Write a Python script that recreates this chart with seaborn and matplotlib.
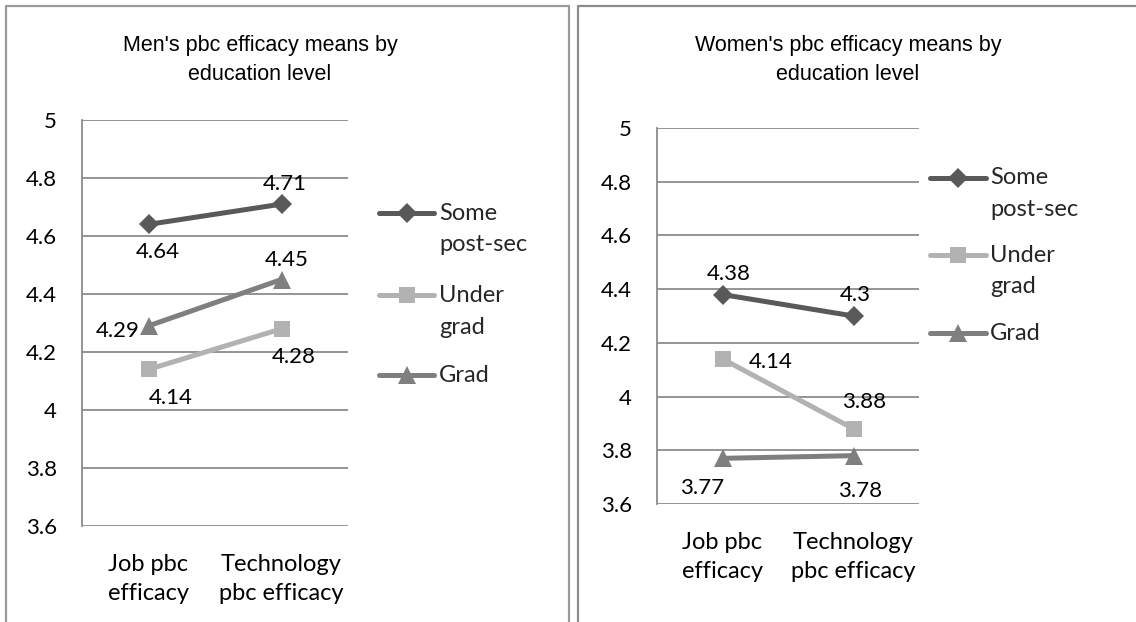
import matplotlib
matplotlib.use("Agg")
import matplotlib.pyplot as plt
from matplotlib.lines import Line2D
import pandas as pd
import seaborn as sns

# ---- data -------------------------------------------------------------
measures = ["Job pbc\nefficacy", "Technology\npbc efficacy"]
levels = ["Some post-sec", "Under grad", "Grad"]
legend_labels = ["Some\npost-sec", "Under\ngrad", "Grad"]

men_some = [4.64, 4.71]
men_under = [4.14, 4.28]
men_grad = [4.29, 4.45]

women_some = [4.38, 4.30]
women_under = [4.14, 3.88]
women_grad = [3.77, 3.78]

y_ticks = [3.6, 3.8, 4.0, 4.2, 4.4, 4.6, 4.8, 5.0]

men_title = ["Men's pbc efficacy means by", "education level"]
women_title = ["Women's pbc efficacy means by", "education level"]

# ---- styling ----------------------------------------------------------
W, H = 1136, 622
colors = {"Some post-sec": "#595959", "Under grad": "#b2b2b2", "Grad": "#7f7f7f"}
markers = {"Some post-sec": "D", "Under grad": "s", "Grad": "^"}
msizes = {"Some post-sec": 10, "Under grad": 11, "Grad": 12.5}
grid_c = "#8c8c8c"
body_font = "Lato"
title_font = "Liberation Sans"
num_size = 16
text_size = 17

sns.set_theme(style="white")
plt.rcParams["font.family"] = [body_font, "DejaVu Sans"]


def fx(x):
    return x / W


def fy(y):
    return 1 - y / H


def make_frame(values):
    rows = []
    for lvl, vals in zip(levels, values):
        for m, v in zip(measures, vals):
            rows.append({"measure": m, "level": lvl, "value": v})
    return pd.DataFrame(rows)


def draw_panel(fig, box, values, label_offsets):
    x0, y0, x1, y1 = box
    ax = fig.add_axes([fx(x0), fy(y1), fx(x1 - x0), (y1 - y0) / H])
    df = make_frame(values)
    sns.lineplot(data=df, x="measure", y="value", hue="level", style="level",
                 palette=colors, markers=markers, dashes=False, sort=False,
                 linewidth=3.6, legend=False, ax=ax)
    for line, lvl in zip(ax.get_lines(), levels):
        line.set_markersize(msizes[lvl])
        line.set_markeredgewidth(0)
        line.set_markerfacecolor(colors[lvl])
    ax.set_xlim(-0.5, 1.5)
    ax.set_ylim(3.6, 5.0)
    ax.set_yticks(y_ticks)
    ax.set_yticklabels([f"{t:g}" for t in y_ticks])
    ax.set_xlabel("")
    ax.set_ylabel("")
    ax.yaxis.grid(True, color=grid_c, linewidth=1.3)
    ax.xaxis.grid(False)
    ax.set_axisbelow(True)
    for s in ["top", "right", "bottom"]:
        ax.spines[s].set_visible(False)
    ax.spines["left"].set_color(grid_c)
    ax.spines["left"].set_linewidth(1.3)
    ax.tick_params(axis="both", length=0, colors="black")
    ax.tick_params(axis="y", pad=18, labelsize=num_size)
    ax.tick_params(axis="x", pad=20, labelsize=text_size)
    for lab in ax.get_xticklabels():
        lab.set_linespacing(1.5)
    # value labels
    for lvl, vals, offs in zip(levels, values, label_offsets):
        for i, (v, off) in enumerate(zip(vals, offs)):
            ax.annotate(f"{v:g}", xy=(i, v), xytext=off,
                        textcoords="offset pixels", ha="center", va="center",
                        fontsize=num_size, color="black")
    return ax


def draw_legend(fig, x_line, x_text, rows):
    for lvl, lab, y in zip(levels, legend_labels, rows):
        xs = [fx(x_line[0]), fx((x_line[0] + x_line[1]) / 2), fx(x_line[1])]
        ln = Line2D(xs, [fy(y)] * 3, transform=fig.transFigure,
                    color=colors[lvl], linewidth=3.6, marker=markers[lvl],
                    markersize=msizes[lvl], markeredgewidth=0, markevery=[1])
        fig.add_artist(ln)
        first, *rest = lab.split("\n")
        fig.text(fx(x_text), fy(y), first, ha="left", va="center",
                 fontsize=text_size)
        for k, extra in enumerate(rest, start=1):
            fig.text(fx(x_text), fy(y + 32 * k), extra, ha="left", va="center",
                     fontsize=text_size)


def border(fig, xs, ys, color, lw):
    fig.add_artist(Line2D([fx(x) for x in xs], [fy(y) for y in ys],
                          transform=fig.transFigure, color=color, linewidth=lw))


fig = plt.figure(figsize=(W / 100, H / 100), dpi=100)
fig.patch.set_facecolor("white")

# panel frames
border(fig, [6, 6, 569, 569], [H + 5, 5.5, 5.5, H + 5], "#9a9a9a", 1.6)
border(fig, [578, 578, W + 5], [H + 5, 5.5, 5.5], "#8c8c8c", 1.6)

men_offsets = [[(9, -28), (3, 20)],
               [(22, -29), (12, -28)],
               [(-31, -5), (5, 20)]]
women_offsets = [[(6, 21), (2, 21)],
                 [(48, -3), (11, 27)],
                 [(-20, -30), (7, -35)]]

draw_panel(fig, (82, 120, 348, 526),
           [men_some, men_under, men_grad], men_offsets)
draw_panel(fig, (657, 128, 919, 504),
           [women_some, women_under, women_grad], women_offsets)

for (cx, lines) in [(260, men_title), (848, women_title)]:
    for k, t in enumerate(lines):
        fig.text(fx(cx), fy(45 + 30 * k), t, ha="center", va="center",
                 fontsize=15.5, family=[title_font, "DejaVu Sans"], color="black")

draw_legend(fig, (379, 434), 439, [213, 295, 375])
draw_legend(fig, (930, 986), 990, [178, 255, 333])

fig.savefig("out.png", dpi=100, facecolor="white")
